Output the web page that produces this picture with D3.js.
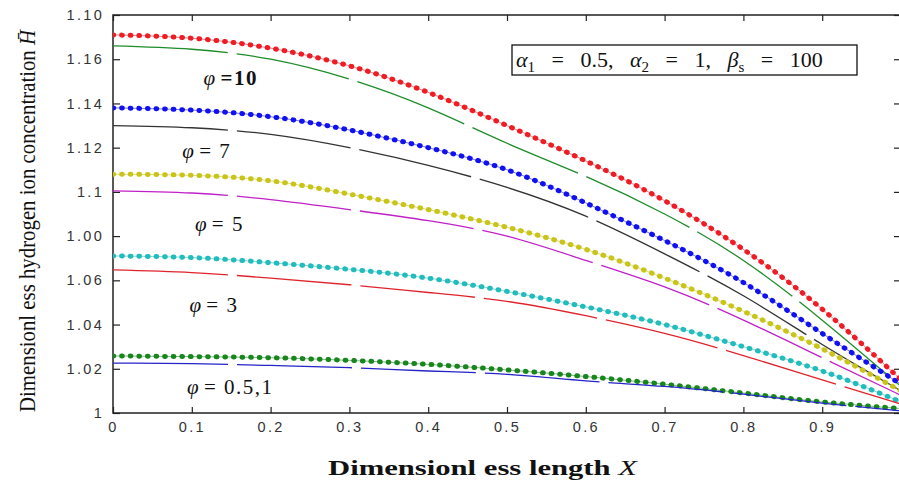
<!DOCTYPE html>
<html lang="en">
<head>
<meta charset="utf-8">
<style>
  body { margin: 0; background: #fff; }
  svg { display: block; }
  .tick text { font-family: "Liberation Sans", Arial, sans-serif; font-size: 14.5px; fill: #333; letter-spacing: 2.3px; }
  .tick line { stroke: #222; stroke-width: 1.2px; }
  .domain { display: none; }
  .serif { font-family: "Liberation Serif", "Times New Roman", serif; fill: #111; }
</style>
<script src="https://cdn.jsdelivr.net/npm/d3@7"></script>
</head>
<body>
<svg width="899" height="483"></svg>
<script>
// dimensionless length X
var xValues = [0, 0.1, 0.2, 0.3, 0.4, 0.5, 0.6, 0.7, 0.8, 0.9, 1.0];

// phi = 10
var phi10Dots = [1.171, 1.1695, 1.165, 1.157, 1.145, 1.130, 1.114, 1.096, 1.074, 1.047, 1.015];
var phi10Line = [1.166, 1.1645, 1.160, 1.151, 1.138, 1.122, 1.107, 1.090, 1.069, 1.042, 1.012];
// phi = 7
var phi7Dots = [1.138, 1.137, 1.134, 1.128, 1.120, 1.110, 1.095, 1.078, 1.059, 1.036, 1.013];
var phi7Line = [1.130, 1.129, 1.126, 1.120, 1.112, 1.102, 1.089, 1.072, 1.053, 1.031, 1.010];
// phi = 5
var phi5Dots = [1.108, 1.1075, 1.105, 1.099, 1.092, 1.084, 1.074, 1.061, 1.046, 1.029, 1.010];
var phi5Line = [1.1005, 1.0995, 1.0965, 1.092, 1.087, 1.080, 1.069, 1.057, 1.042, 1.025, 1.008];
// phi = 3
var phi3Dots = [1.071, 1.0703, 1.068, 1.065, 1.061, 1.055, 1.048, 1.040, 1.030, 1.019, 1.005];
var phi3Line = [1.0647, 1.0635, 1.061, 1.058, 1.0545, 1.0505, 1.044, 1.036, 1.026, 1.015, 1.004];
// phi = 0.5, 1
var phi1Dots = [1.0258, 1.0255, 1.025, 1.0238, 1.022, 1.0195, 1.0165, 1.013, 1.009, 1.005, 1.002];
var phi1Line = [1.0226, 1.0223, 1.0215, 1.0205, 1.019, 1.0175, 1.0145, 1.012, 1.0085, 1.0045, 1.001];

var xTicks = [0, 0.1, 0.2, 0.3, 0.4, 0.5, 0.6, 0.7, 0.8, 0.9];
var xTickLabels = ["0", "0.1", "0.2", "0.3", "0.4", "0.5", "0.6", "0.7", "0.8", "0.9"];
var yTicks = [1, 1.02, 1.04, 1.06, 1.08, 1.10, 1.12, 1.14, 1.16, 1.18];
var yTickLabels = ["1", "1.02", "1.04", "1.06", "1.00", "1.1", "1.12", "1.14", "1.16", "1.10"];

var phiLabels = [
    { text: "=10", x: 0.115, y: 1.1485, bold: true },
    { text: "= 7", x: 0.088, y: 1.1155, bold: false },
    { text: "= 5", x: 0.104, y: 1.0825, bold: false },
    { text: "= 3", x: 0.097, y: 1.0455, bold: false },
    { text: "= 0.5,1", x: 0.094, y: 1.0085, bold: false }
];

var series = [
    { values: phi10Dots, color: "#ee1c24", dots: true },
    { values: phi10Line, color: "#1e8c2a", dots: false },
    { values: phi7Dots, color: "#1010f0", dots: true },
    { values: phi7Line, color: "#333333", dots: false },
    { values: phi5Dots, color: "#c8c418", dots: true },
    { values: phi5Line, color: "#c020c8", dots: false },
    { values: phi3Dots, color: "#22bcbc", dots: true },
    { values: phi3Line, color: "#e0242c", dots: false },
    { values: phi1Dots, color: "#17861c", dots: true },
    { values: phi1Line, color: "#2424c8", dots: false }
];

var svg = d3.select("svg");
var plotLeft = 113, plotRight = 901, plotTop = 15, plotBottom = 413;

var x = d3.scaleLinear().domain([0, 1]).range([plotLeft, plotRight]);
var y = d3.scaleLinear().domain([1, 1.18]).range([plotBottom, plotTop]);

svg.append("clipPath").attr("id", "plot")
    .append("rect").attr("x", plotLeft).attr("y", plotTop - 4)
    .attr("width", plotRight - plotLeft).attr("height", plotBottom - plotTop + 4);

// axes, ticks pointing inward
svg.append("g").attr("transform", "translate(0," + plotBottom + ")")
    .call(d3.axisBottom(x).tickValues(xTicks).tickSizeInner(-6).tickSizeOuter(0).tickPadding(9)
        .tickFormat(function(d, i) { return xTickLabels[i]; }));
svg.append("g").attr("transform", "translate(0," + plotTop + ")")
    .call(d3.axisTop(x).tickValues(xTicks).tickSizeInner(-6).tickSizeOuter(0).tickFormat(""));
svg.append("g").attr("transform", "translate(" + plotLeft + ",0)")
    .call(d3.axisLeft(y).tickValues(yTicks).tickSizeInner(-7).tickSizeOuter(0).tickPadding(9)
        .tickFormat(function(d, i) { return yTickLabels[i]; }));
svg.append("g").attr("transform", "translate(" + plotRight + ",0)")
    .call(d3.axisRight(y).tickValues(yTicks).tickSizeInner(-7).tickSizeOuter(0).tickFormat(""));

svg.append("rect")
    .attr("x", plotLeft).attr("y", plotTop)
    .attr("width", plotRight - plotLeft).attr("height", plotBottom - plotTop)
    .attr("fill", "none").attr("stroke", "#222").attr("stroke-width", 1.5);

var line = d3.line()
    .x(function(d, i) { return x(xValues[i]); })
    .y(function(d) { return y(d); })
    .curve(d3.curveNatural);

var plot = svg.append("g").attr("clip-path", "url(#plot)");

series.forEach(function(s) {
    if (s.dots) {
        plot.append("path")
            .attr("d", line(s.values))
            .attr("fill", "none")
            .attr("stroke", s.color)
            .attr("stroke-width", 0.8)
            .attr("stroke-opacity", 0.7);
        plot.append("path")
            .attr("d", line(s.values))
            .attr("fill", "none")
            .attr("stroke", s.color)
            .attr("stroke-width", 5)
            .attr("stroke-linecap", "round")
            .attr("stroke-dasharray", "0.8 7.8");
    } else {
        plot.append("path")
            .attr("d", line(s.values))
            .attr("fill", "none")
            .attr("stroke", s.color)
            .attr("stroke-width", 1.3)
            .attr("stroke-dasharray", "115 9");
    }
});

// phi labels
phiLabels.forEach(function(p) {
    var t = svg.append("text")
        .attr("class", "serif")
        .attr("x", x(p.x)).attr("y", y(p.y))
        .style("font-size", "21px");
    t.append("tspan").style("font-style", "italic").text("\u03c6 ");
    t.append("tspan").style("font-weight", p.bold ? "bold" : "normal")
        .style("letter-spacing", "1.5px").text(p.text);
});

// parameter box
svg.append("rect")
    .attr("x", 512).attr("y", 45).attr("width", 345).attr("height", 30)
    .attr("fill", "#fff").attr("stroke", "#111").attr("stroke-width", 1.3);

var box = svg.append("text").attr("class", "serif")
    .attr("x", 516).attr("y", 67)
    .style("font-size", "22px").style("word-spacing", "11px");
box.append("tspan").style("font-style", "italic").text("\u03b1");
box.append("tspan").attr("dy", 5).style("font-size", "15px").text("1");
box.append("tspan").attr("dy", -5).text(" = 0.5, ");
box.append("tspan").style("font-style", "italic").text("\u03b1");
box.append("tspan").attr("dy", 5).style("font-size", "15px").text("2");
box.append("tspan").attr("dy", -5).text(" = 1, ");
box.append("tspan").style("font-style", "italic").text("\u03b2");
box.append("tspan").attr("dy", 5).style("font-size", "15px").text("s");
box.append("tspan").attr("dy", -5).text("  = 100");

// axis titles
var xt = svg.append("text").attr("class", "serif")
    .attr("x", 328).attr("y", 475)
    .attr("textLength", 309).attr("lengthAdjust", "spacingAndGlyphs")
    .style("font-size", "21px").style("font-weight", "bold");
xt.append("tspan").text("Dimensionl ess length ");
xt.append("tspan").style("font-style", "italic").style("font-weight", "normal").text("X");

var yt = svg.append("text").attr("class", "serif")
    .attr("transform", "translate(35,412) rotate(-90)")
    .attr("x", 0).attr("y", 0)
    .attr("textLength", 382).attr("lengthAdjust", "spacingAndGlyphs")
    .style("font-size", "23px");
yt.append("tspan").text("Dimensionl ess hydrogen  ion concentration ");
yt.append("tspan").style("font-style", "italic").text("H\u0304");
</script>
</body>
</html>
